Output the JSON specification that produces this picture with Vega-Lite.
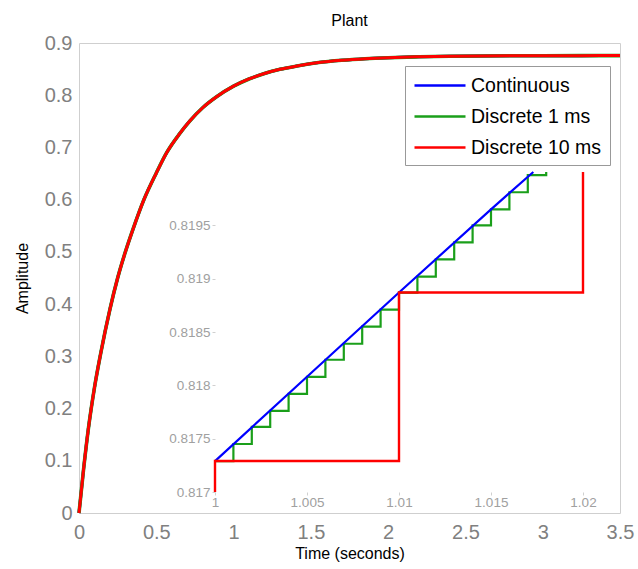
{
  "$schema": "https://vega.github.io/schema/vega-lite/v6.json",
  "width": 541,
  "height": 470,
  "autosize": "none",
  "padding": {"left": 79, "top": 43, "right": 18, "bottom": 56},
  "background": "white",
  "title": {"text": "Plant", "fontSize": 16, "fontWeight": "normal", "color": "black", "font": "Liberation Sans", "offset": 4},
  "config": {"view": {"stroke": "#cfcfcf"}, "font": "Liberation Sans"},
  "datasets": {
    "main": [
      {"t": 0, "y": 0}, {"t": 0.03, "y": 0.085}, {"t": 0.06, "y": 0.16}, {"t": 0.1, "y": 0.24},
      {"t": 0.14, "y": 0.305}, {"t": 0.2, "y": 0.39}, {"t": 0.25, "y": 0.45}, {"t": 0.3, "y": 0.5},
      {"t": 0.35, "y": 0.544}, {"t": 0.42, "y": 0.6},
      {"t": 0.5, "y": 0.651}, {"t": 0.567, "y": 0.69}, {"t": 0.65, "y": 0.726}, {"t": 0.718, "y": 0.751},
      {"t": 0.8, "y": 0.776}, {"t": 0.89, "y": 0.797}, {"t": 1.0, "y": 0.8173}, {"t": 1.1, "y": 0.8311},
      {"t": 1.2, "y": 0.8416}, {"t": 1.3, "y": 0.8496}, {"t": 1.41, "y": 0.856}, {"t": 1.55, "y": 0.8625},
      {"t": 1.7, "y": 0.8669}, {"t": 1.85, "y": 0.8699}, {"t": 2.0, "y": 0.8719}, {"t": 2.2, "y": 0.8736},
      {"t": 2.4, "y": 0.8746}, {"t": 2.6, "y": 0.8752}, {"t": 2.8, "y": 0.8755}, {"t": 3.0, "y": 0.8757},
      {"t": 3.25, "y": 0.8758}, {"t": 3.5, "y": 0.8759}
    ],
    "blue": [
      {"t": 1.0, "y": 0.81729, "series": "Continuous"},
      {"t": 1.005, "y": 0.81808, "series": "Continuous"},
      {"t": 1.01, "y": 0.81887, "series": "Continuous"},
      {"t": 1.015, "y": 0.81965, "series": "Continuous"},
      {"t": 1.0173, "y": 0.82, "series": "Continuous"}
    ],
    "green": [
      {"t": 1.000, "y": 0.81729, "series": "Discrete 1 ms"},
      {"t": 1.001, "y": 0.81745, "series": "Discrete 1 ms"},
      {"t": 1.002, "y": 0.81761, "series": "Discrete 1 ms"},
      {"t": 1.003, "y": 0.81776, "series": "Discrete 1 ms"},
      {"t": 1.004, "y": 0.81792, "series": "Discrete 1 ms"},
      {"t": 1.005, "y": 0.81808, "series": "Discrete 1 ms"},
      {"t": 1.006, "y": 0.81824, "series": "Discrete 1 ms"},
      {"t": 1.007, "y": 0.81839, "series": "Discrete 1 ms"},
      {"t": 1.008, "y": 0.81855, "series": "Discrete 1 ms"},
      {"t": 1.009, "y": 0.81871, "series": "Discrete 1 ms"},
      {"t": 1.010, "y": 0.81887, "series": "Discrete 1 ms"},
      {"t": 1.011, "y": 0.81902, "series": "Discrete 1 ms"},
      {"t": 1.012, "y": 0.81918, "series": "Discrete 1 ms"},
      {"t": 1.013, "y": 0.81934, "series": "Discrete 1 ms"},
      {"t": 1.014, "y": 0.8195, "series": "Discrete 1 ms"},
      {"t": 1.015, "y": 0.81965, "series": "Discrete 1 ms"},
      {"t": 1.016, "y": 0.81981, "series": "Discrete 1 ms"},
      {"t": 1.017, "y": 0.81997, "series": "Discrete 1 ms"},
      {"t": 1.018, "y": 0.82013, "series": "Discrete 1 ms"}
    ],
    "red": [
      {"t": 0.99, "y": 0.81571, "series": "Discrete 10 ms"},
      {"t": 1.0, "y": 0.81729, "series": "Discrete 10 ms"},
      {"t": 1.01, "y": 0.81887, "series": "Discrete 10 ms"},
      {"t": 1.02, "y": 0.82044, "series": "Discrete 10 ms"}
    ]
  },
  "layer": [
    {
      "data": {"name": "main"},
      "encoding": {
        "x": {"field": "t", "type": "quantitative",
          "scale": {"domain": [0, 3.5], "nice": false, "zero": false},
          "axis": {"values": [0, 0.5, 1, 1.5, 2, 2.5, 3, 3.5], "labelExpr": "'' + datum.value",
            "title": "Time (seconds)", "grid": false, "domain": false, "ticks": false,
            "labelFontSize": 20, "labelColor": "#808080", "labelPadding": 9, "labelFlush": false,
            "titleFontSize": 16, "titleFontWeight": "normal", "titleColor": "black", "titlePadding": 3}},
        "y": {"field": "y", "type": "quantitative",
          "scale": {"domain": [0, 0.9], "nice": false},
          "axis": {"values": [0, 0.1, 0.2, 0.3, 0.4, 0.5, 0.6, 0.7, 0.8, 0.9], "labelExpr": "'' + datum.value",
            "title": "Amplitude", "grid": false, "domain": false, "ticks": false,
            "labelFontSize": 20, "labelColor": "#808080", "labelPadding": 7, "labelFlush": false,
            "titleFontSize": 16, "titleFontWeight": "normal", "titleColor": "black", "titlePadding": 14}}
      },
      "layer": [
        {"mark": {"type": "line", "color": "#0000ff", "strokeWidth": 3, "interpolate": "monotone"}},
        {"mark": {"type": "line", "color": "#1a9f1a", "strokeWidth": 3.6, "interpolate": "monotone"}},
        {"mark": {"type": "line", "color": "#ff0000", "strokeWidth": 3, "interpolate": "monotone"}}
      ]
    },
    {
      "encoding": {
        "x": {"field": "t", "type": "quantitative",
          "scale": {"domain": [1, 1.02], "range": [136, 504], "nice": false, "zero": false, "clamp": true},
          "axis": {"orient": "bottom", "offset": -21, "values": [1, 1.005, 1.01, 1.015, 1.02], "labelExpr": "'' + datum.value",
            "title": null, "grid": false, "domain": false, "tickSize": 3, "tickColor": "#d0d0d0",
            "labelFontSize": 13.5, "labelColor": "#a0a0a0", "labelPadding": 0, "labelFlush": false}},
        "y": {"field": "y", "type": "quantitative",
          "scale": {"domain": [0.817, 0.82], "range": [449, 129], "nice": false, "zero": false, "clamp": true},
          "axis": {"orient": "left", "offset": -136, "values": [0.817, 0.8175, 0.818, 0.8185, 0.819, 0.8195], "labelExpr": "'' + datum.value",
            "title": null, "grid": false, "domain": false, "tickSize": 3, "tickColor": "#d0d0d0",
            "labelFontSize": 13.5, "labelColor": "#a0a0a0", "labelPadding": 2, "labelFlush": false}},
        "color": {"field": "series", "type": "nominal",
          "scale": {"domain": ["Continuous", "Discrete 1 ms", "Discrete 10 ms"], "range": ["#0000ff", "#1a9f1a", "#ff0000"]},
          "legend": {"orient": "none", "legendX": 326, "legendY": 23, "title": null,
            "symbolType": "M-1,0H4.1", "symbolSize": 400, "symbolStrokeWidth": 2.5,
            "labelFontSize": 19.5, "labelColor": "black", "labelOffset": 35,
            "strokeColor": "#999999", "fillColor": "white", "padding": 8, "rowPadding": 10}}
      },
      "layer": [
        {"data": {"name": "green"}, "mark": {"type": "line", "strokeWidth": 2.2, "interpolate": "step-after"}},
        {"data": {"name": "blue"}, "mark": {"type": "line", "strokeWidth": 2.2}},
        {"data": {"name": "red"}, "mark": {"type": "line", "strokeWidth": 2.4, "interpolate": "step-after"}}
      ]
    }
  ],
  "resolve": {"scale": {"x": "independent", "y": "independent"}, "axis": {"x": "independent", "y": "independent"}}
}
